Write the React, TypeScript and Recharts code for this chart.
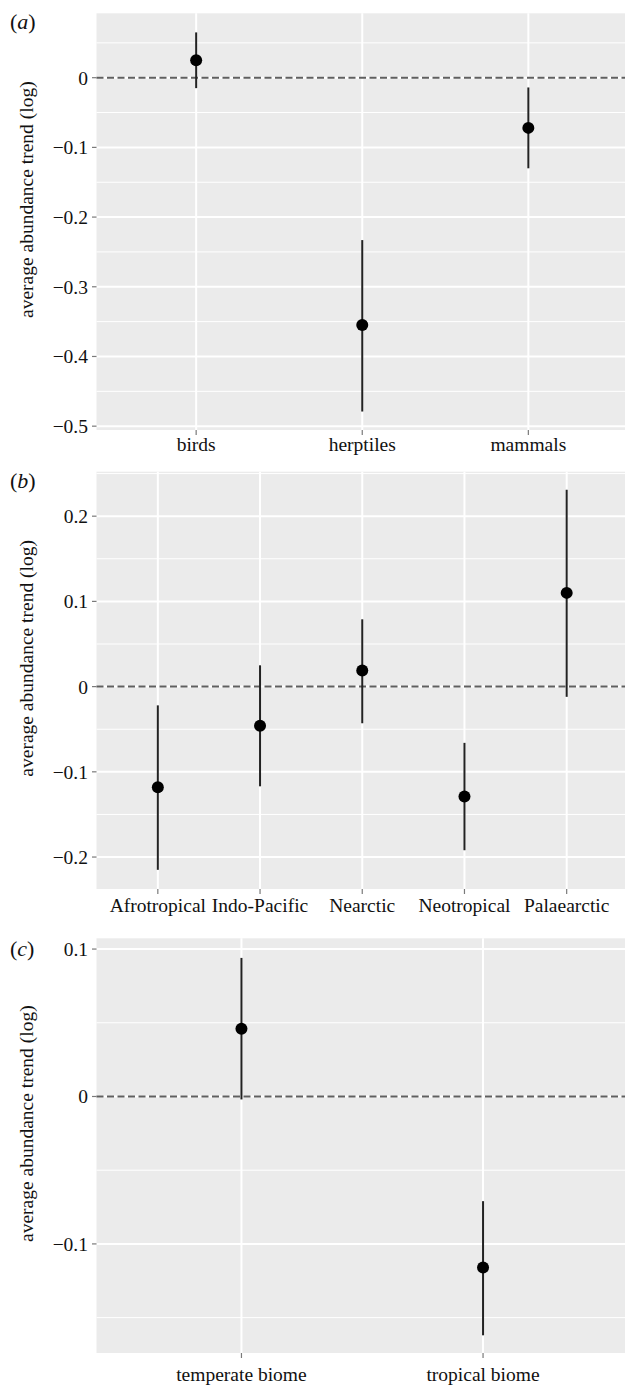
import {
  CartesianGrid,
  ErrorBar,
  Label,
  ReferenceLine,
  Scatter,
  ScatterChart,
  XAxis,
  YAxis,
} from 'recharts'

const FONT = '"Liberation Serif", "Times New Roman", serif'

// (a) taxonomic class
const taxaNames = ['birds', 'herptiles', 'mammals']
const taxaMean = [0.025, -0.355, -0.072]
const taxaLow = [-0.015, -0.479, -0.13]
const taxaHigh = [0.065, -0.233, -0.014]
const taxaTicks = [-0.5, -0.4, -0.3, -0.2, -0.1, 0]
const taxaMinor = [-0.45, -0.35, -0.25, -0.15, -0.05, 0.05]

// (b) biogeographic realm
const realmNames = ['Afrotropical', 'Indo-Pacific', 'Nearctic', 'Neotropical', 'Palaearctic']
const realmMean = [-0.118, -0.046, 0.019, -0.129, 0.11]
const realmLow = [-0.215, -0.117, -0.043, -0.192, -0.012]
const realmHigh = [-0.022, 0.025, 0.079, -0.066, 0.231]
const realmTicks = [-0.2, -0.1, 0, 0.1, 0.2]
const realmMinor = [-0.15, -0.05, 0.05, 0.15, 0.25]

// (c) biome
const biomeNames = ['temperate biome', 'tropical biome']
const biomeMean = [0.046, -0.116]
const biomeLow = [-0.002, -0.162]
const biomeHigh = [0.094, -0.071]
const biomeTicks = [-0.1, 0, 0.1]
const biomeMinor = [-0.15, -0.05, 0.05]

interface Row {
  x: number
  name: string
  y: number
  err: [number, number]
}

function buildRows(names: string[], mean: number[], low: number[], high: number[]): Row[] {
  return names.map((name, i) => ({
    x: i + 1,
    name,
    y: mean[i],
    err: [mean[i] - low[i], high[i] - mean[i]],
  }))
}

const fmtY = (v: number) => {
  if (Math.abs(v) < 1e-9) return '0'
  return (v < 0 ? '\u2212' : '') + Math.abs(v).toFixed(1)
}

const Dot = (props: any) => <circle cx={props.cx} cy={props.cy} r={6} fill="#000" />

const yTitle = (props: any) => {
  const vb = props.viewBox || {}
  const x = 33
  const y = vb.y + vb.height / 2 - 22
  return (
    <text
      x={x}
      y={y}
      transform={`rotate(-90 ${x} ${y})`}
      textAnchor="middle"
      fontFamily={FONT}
      fontSize={19.5}
      fill="#111"
    >
      average abundance trend (log)
    </text>
  )
}

interface PanelProps {
  letter: string
  names: string[]
  rows: Row[]
  domain: [number, number]
  ticks: number[]
  minor: number[]
  top: number
  height: number
  marginTop: number
  xAxisHeight: number
  xTickMargin: number
  letterTop: number
}

function Panel(p: PanelProps) {
  const n = p.names.length
  const xTicks = p.names.map((_, i) => i + 1)
  const tickStyle = { fontSize: 19.5, fontFamily: FONT, fill: '#111' }
  const tickLine = { stroke: '#7a7a7a', strokeWidth: 1.2 }
  return (
    <>
      <div
        style={{
          position: 'absolute',
          left: 10,
          top: p.letterTop,
          fontFamily: FONT,
          fontSize: 22,
          lineHeight: 1,
          color: '#111',
        }}
      >
        (<i>{p.letter}</i>)
      </div>
      <div style={{ position: 'absolute', left: 0, top: p.top }}>
        <ScatterChart
          width={640}
          height={p.height}
          margin={{ top: p.marginTop, right: 12, bottom: 0, left: 0 }}
        >
          <CartesianGrid
            horizontalValues={p.minor}
            vertical={false}
            stroke="#ffffff"
            strokeWidth={1}
            fill="#EBEBEB"
          />
          <CartesianGrid
            horizontalValues={p.ticks}
            verticalValues={xTicks}
            stroke="#ffffff"
            strokeWidth={2}
          />
          <XAxis
            type="number"
            dataKey="x"
            domain={[0.4, n + 0.6]}
            ticks={xTicks}
            interval={0}
            allowDataOverflow
            tickFormatter={(v: number) => p.names[v - 1] ?? ''}
            axisLine={false}
            tickLine={tickLine}
            tickSize={5}
            tickMargin={p.xTickMargin}
            height={p.xAxisHeight}
            tick={tickStyle}
          />
          <YAxis
            type="number"
            dataKey="y"
            domain={p.domain}
            ticks={p.ticks}
            interval={0}
            allowDataOverflow
            tickFormatter={fmtY}
            axisLine={false}
            tickLine={tickLine}
            tickSize={4.5}
            tickMargin={4}
            width={96.5}
            tick={tickStyle}
          >
            <Label content={yTitle} />
          </YAxis>
          <ReferenceLine y={0} stroke="#5f5f5f" strokeWidth={2} strokeDasharray="7 3.5" />
          <Scatter data={p.rows} shape={Dot} isAnimationActive={false}>
            <ErrorBar dataKey="err" direction="y" width={0} stroke="#222" strokeWidth={2} />
          </Scatter>
        </ScatterChart>
      </div>
    </>
  )
}

export default function App() {
  return (
    <div
      style={{
        position: 'absolute',
        left: 0,
        top: 0,
        width: 625,
        height: 1388,
        overflow: 'hidden',
        background: '#fff',
      }}
    >
      <Panel
        letter="a"
        names={taxaNames}
        rows={buildRows(taxaNames, taxaMean, taxaLow, taxaHigh)}
        domain={[-0.5055, 0.0924]}
        ticks={taxaTicks}
        minor={taxaMinor}
        top={0}
        height={460}
        marginTop={13.3}
        xAxisHeight={30}
        xTickMargin={2}
        letterTop={11}
      />
      <Panel
        letter="b"
        names={realmNames}
        rows={buildRows(realmNames, realmMean, realmLow, realmHigh)}
        domain={[-0.2375, 0.2522]}
        ticks={realmTicks}
        minor={realmMinor}
        top={460}
        height={460}
        marginTop={11.7}
        xAxisHeight={31}
        xTickMargin={4}
        letterTop={470}
      />
      <Panel
        letter="c"
        names={biomeNames}
        rows={buildRows(biomeNames, biomeMean, biomeLow, biomeHigh)}
        domain={[-0.174, 0.1073]}
        ticks={biomeTicks}
        minor={biomeMinor}
        top={920}
        height={468}
        marginTop={18.3}
        xAxisHeight={35}
        xTickMargin={9}
        letterTop={937.5}
      />
    </div>
  )
}
